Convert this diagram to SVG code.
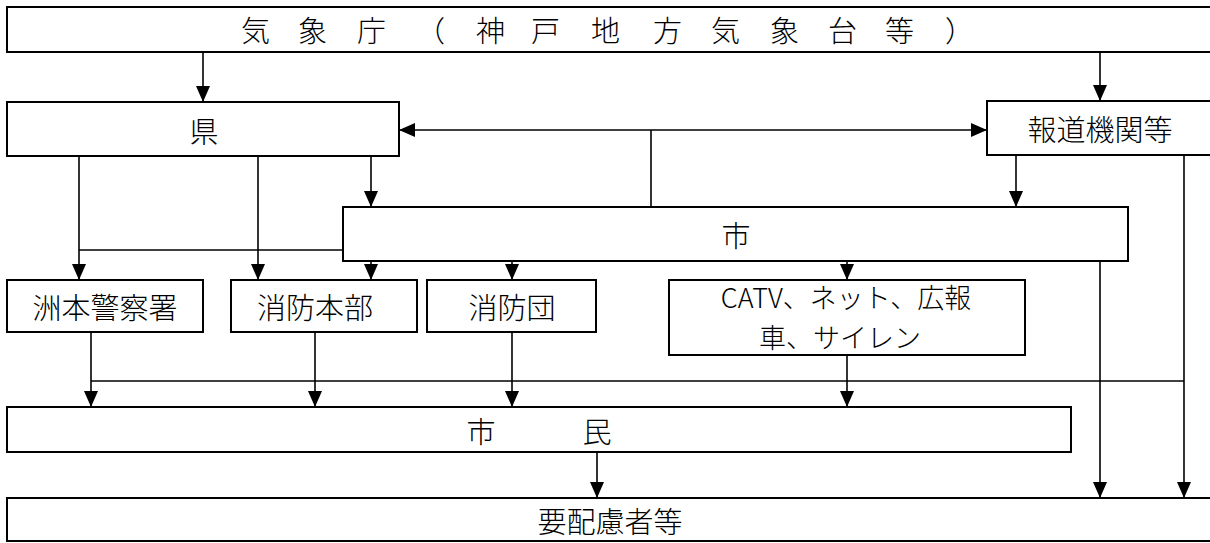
<svg xmlns="http://www.w3.org/2000/svg" width="1210" height="543" viewBox="0 0 1210 543">
<defs>
<style>
.box{fill:#fff;stroke:#000;stroke-width:2}
.ln{fill:none;stroke:#000;stroke-width:1.6}
.ar{marker-end:url(#ah)}
text{font-family:"Noto Sans CJK JP","Noto Sans",sans-serif;font-size:29px;font-weight:300;fill:#000;dominant-baseline:central}
.c{text-anchor:middle}
.s{font-size:27px}
</style>
<marker id="ah" viewBox="0 0 16 14" refX="16" refY="7" markerWidth="16" markerHeight="14" markerUnits="userSpaceOnUse" orient="auto-start-reverse">
<path d="M0,0 L16,7 L0,14 z" fill="#000"/>
</marker>
</defs>
<rect width="1210" height="543" fill="#fff"/>
<g id="connectors">
<path class="ln ar" d="M203,52 V102"/>
<path class="ln ar" d="M1100,52 V101"/>
<path class="ln" d="M399,130 H987" marker-start="url(#ah)" marker-end="url(#ah)"/>
<path class="ln" d="M651,130 V207"/>
<path class="ln ar" d="M79,156 V280"/>
<path class="ln ar" d="M258,156 V280"/>
<path class="ln ar" d="M371,156 V207"/>
<path class="ln" d="M79,250 H371"/>
<path class="ln ar" d="M371,261 V280"/>
<path class="ln ar" d="M1016,155 V207"/>
<path class="ln ar" d="M512,261 V280"/>
<path class="ln ar" d="M847,261 V280"/>
<path class="ln ar" d="M1100,261 V498"/>
<path class="ln ar" d="M1184,155 V498"/>
<path class="ln ar" d="M91,332 V407"/>
<path class="ln ar" d="M315,332 V407"/>
<path class="ln ar" d="M512,332 V407"/>
<path class="ln ar" d="M847,355 V407"/>
<path class="ln" d="M91,381 H1184"/>
<path class="ln ar" d="M597,452 V498"/>
</g>
<g id="jma"><rect class="box" x="7" y="7" width="1206" height="45"/><text x="241 298 357 416 476 531 591 653 711 770 828 885 945" y="29">気象庁（神戸地方気象台等）</text></g>
<g id="ken"><rect class="box" x="7" y="102" width="392" height="54"/><text class="c" x="204" y="130">県</text></g>
<g id="media"><rect class="box" x="987" y="101" width="226" height="54"/><text class="c" x="1100" y="128">報道機関等</text></g>
<g id="city"><rect class="box" x="343" y="207" width="785" height="54"/><text class="c" x="736" y="234">市</text></g>
<g id="police"><rect class="box" x="7" y="280" width="196" height="52"/><text class="c" x="105" y="306">洲本警察署</text></g>
<g id="fire-hq"><rect class="box" x="231" y="280" width="186" height="52"/><text class="c" x="315" y="306">消防本部</text></g>
<g id="fire-corps"><rect class="box" x="427" y="280" width="169" height="52"/><text class="c" x="512" y="306">消防団</text></g>
<g id="catv"><rect class="box" x="669" y="280" width="356" height="75"/><text class="c s" x="846" y="296">CATV、ネット、広報</text><text class="c s" x="840" y="336">車、サイレン</text></g>
<g id="citizens"><rect class="box" x="7" y="407" width="1064" height="45"/><text class="c" x="539" y="430">市　　　民</text></g>
<g id="vulnerable"><rect class="box" x="7" y="498" width="1206" height="43"/><text class="c" x="610" y="520">要配慮者等</text></g>
</svg>
